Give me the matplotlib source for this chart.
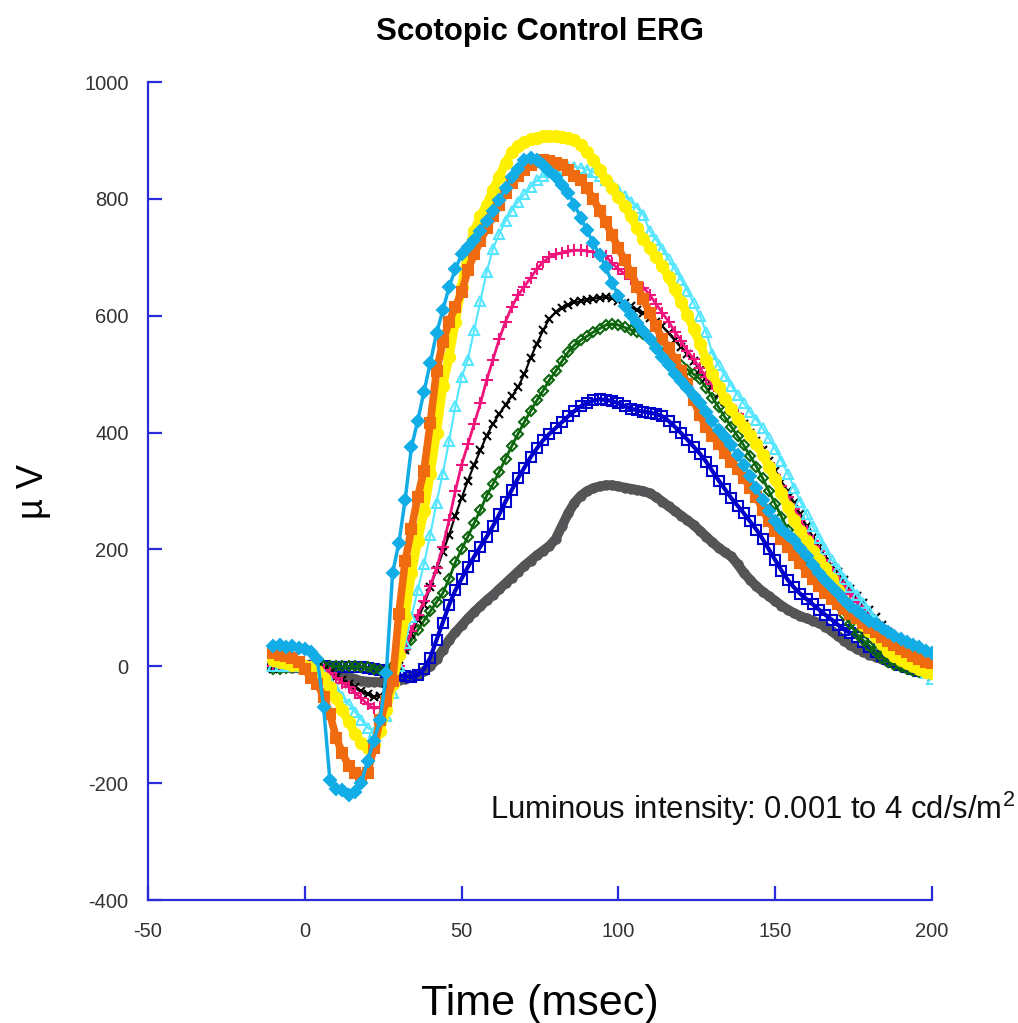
import matplotlib.pyplot as plt

plt.rcParams['font.family'] = ['Liberation Sans', 'DejaVu Sans']
plt.rcParams['mathtext.fontset'] = 'custom'
plt.rcParams['mathtext.rm'] = 'Liberation Sans'
plt.rcParams['axes.unicode_minus'] = False

# time axis (msec), one sample every 2 ms
t = list(range(-10, 201, 2))

# ERG responses (uV), weakest to strongest flash
gray = [0, 0, -2, -3, -3, -2, -2, -3, -4, -6,
        -10, -14, -18, -22, -25, -26, -27, -27, -26, -25,
        -24, -22, -19, -14, -8, 0, 12, 28, 45, 58,
        70, 82, 93, 103, 113, 122, 132, 142, 152, 162,
        172, 181, 190, 198, 206, 218, 240, 262, 280, 292,
        300, 305, 308, 310, 310, 308, 306, 304, 302, 300,
        296, 290, 282, 274, 266, 258, 250, 242, 232, 222,
        212, 203, 195, 188, 175, 160, 148, 137, 128, 120,
        112, 104, 97, 91, 86, 82, 78, 74, 68, 60,
        52, 44, 36, 30, 25, 20, 16, 12, 8, 5,
        2, -2, -6, -8, -10, -10]
blue = [0, 0, 0, 0, 0, 0, 0, 0, 0, -1,
        -2, -2, -2, -2, -2, -3, -4, -6, -9, -12,
        -15, -17, -18, -15, -5, 15, 45, 75, 105, 130,
        150, 170, 188, 205, 222, 240, 260, 282, 302, 322,
        340, 358, 373, 387, 398, 408, 418, 428, 437, 445,
        451, 455, 457, 456, 454, 450, 445, 441, 438, 436,
        434, 432, 428, 420, 410, 399, 388, 376, 364, 350,
        334, 318, 303, 288, 275, 262, 248, 234, 218, 200,
        182, 164, 148, 135, 124, 115, 106, 97, 88, 80,
        71, 63, 57, 50, 42, 33, 25, 18, 12, 7,
        2, -2, -5, -8, -10, -10]
green = [-5, -5, -3, -2, -2, -2, 0, 0, 0, 0,
         0, 0, 0, 0, -1, -2, -4, -6, -8, 0,
         15, 30, 45, 62, 78, 94, 110, 125, 150, 178,
         200, 222, 245, 268, 292, 312, 333, 355, 377, 398,
         418, 437, 455, 472, 490, 505, 522, 538, 550, 558,
         565, 572, 578, 584, 586, 584, 580, 576, 573, 568,
         560, 552, 544, 535, 524, 515, 508, 500, 492, 477,
         460, 443, 426, 410, 394, 378, 360, 342, 322, 300,
         278, 256, 234, 214, 195, 178, 162, 148, 135, 120,
         105, 88, 72, 55, 45, 35, 25, 15, 8, 3,
         -2, -5, -8, -10, -12, -12]
black = [-5, -3, -2, 0, 0, 0, 0, -2, -6, -12,
         -18, -24, -30, -36, -42, -48, -52, -50, -40, -22,
         0, 28, 55, 80, 105, 135, 165, 195, 225, 258,
         288, 318, 345, 370, 395, 415, 432, 448, 462, 478,
         500, 528, 552, 575, 595, 606, 614, 619, 623, 625,
         627, 629, 631, 632, 630, 626, 622, 616, 610, 604,
         597, 590, 582, 570, 558, 546, 534, 522, 508, 494,
         480, 466, 452, 438, 426, 414, 400, 386, 370, 352,
         335, 316, 300, 280, 260, 240, 222, 205, 188, 172,
         162, 148, 133, 120, 108, 96, 84, 71, 58, 45,
         32, 20, 8, -3, -12, -18]
magenta = [0, 0, 0, 0, 0, 0, 0, -2, -6, -12,
           -20, -28, -36, -45, -55, -65, -72, -70, -55, -30,
           0, 30, 60, 88, 112, 138, 168, 205, 250, 300,
           345, 380, 415, 450, 490, 525, 560, 590, 615, 635,
           650, 665, 680, 692, 700, 705, 708, 710, 712, 712,
           711, 709, 706, 702, 690, 680, 672, 663, 655, 648,
           636, 620, 605, 590, 573, 557, 540, 526, 510, 495,
           484, 472, 460, 446, 431, 415, 398, 382, 366, 348,
           328, 308, 290, 270, 250, 232, 215, 198, 182, 166,
           152, 138, 124, 110, 97, 86, 75, 64, 54, 44,
           33, 22, 12, 4, -4, -10]
cyan = [0, 0, 0, 0, 0, -2, -4, -8, -15, -25,
        -38, -52, -65, -78, -92, -105, -112, -108, -85, -45,
        0, 40, 85, 130, 175, 225, 280, 330, 385, 445,
        495, 525, 575, 625, 675, 715, 740, 762, 780, 795,
        808, 820, 832, 840, 846, 850, 853, 855, 855, 853,
        850, 846, 840, 832, 824, 815, 805, 795, 785, 772,
        745, 730, 714, 697, 680, 662, 643, 622, 600, 572,
        535, 515, 497, 480, 465, 450, 435, 422, 408, 390,
        372, 352, 330, 306, 282, 260, 240, 220, 200, 182,
        166, 150, 136, 122, 108, 94, 80, 66, 52, 40,
        30, 20, 10, 0, -12, -22]
yellow = [10, 8, 5, 3, 2, 0, -2, -8, -20, -35,
          -55, -75, -95, -115, -132, -140, -135, -110, -75, -30,
          20, 85, 160, 215, 265, 330, 400, 480, 530, 590,
          650, 710, 745, 770, 790, 815, 838, 862, 880, 890,
          897, 902, 905, 907, 908, 908, 906, 904, 900, 892,
          880, 866, 850, 832, 818, 803, 788, 770, 750, 732,
          716, 700, 686, 666, 645, 624, 602, 578, 552, 525,
          500, 478, 458, 440, 424, 410, 396, 380, 362, 342,
          320, 296, 272, 250, 232, 215, 198, 182, 168, 150,
          130, 112, 96, 82, 70, 60, 50, 38, 26, 18,
          10, 5, 0, -5, -10, -12]
orange = [22, 20, 18, 15, 8, -5, -20, -30, -52, -82,
          -122, -149, -170, -182, -188, -182, -140, -92, -60, -25,
          90, 180, 235, 290, 335, 416, 505, 555, 590, 615,
          640, 678, 705, 728, 750, 770, 790, 810, 827, 840,
          850, 858, 863, 866, 865, 862, 858, 850, 840, 832,
          818, 800, 780, 760, 738, 716, 695, 673, 650, 628,
          605, 582, 560, 545, 525, 505, 484, 455, 430, 410,
          395, 380, 365, 350, 338, 322, 306, 290, 268, 248,
          232, 218, 204, 190, 176, 162, 150, 137, 125, 115,
          106, 98, 90, 82, 74, 66, 58, 50, 43, 36,
          30, 24, 18, 12, 8, 5]
skyblue = [35, 36, 33, 35, 32, 30, 25, 12, -70, -195,
           -210, -212, -220, -215, -200, -162, -127, -92, -12, 160,
           211, 285, 375, 420, 470, 519, 570, 609, 649, 680,
           705, 718, 729, 745, 763, 780, 798, 818, 837, 852,
           866, 870, 866, 858, 848, 837, 824, 810, 790, 768,
           746, 724, 704, 683, 656, 634, 617, 602, 588, 574,
           560, 545, 530, 515, 500, 488, 477, 462, 450, 435,
           420, 405, 392, 378, 362, 345, 325, 305, 285, 265,
           248, 235, 225, 216, 202, 188, 174, 160, 147, 136,
           125, 114, 103, 94, 86, 78, 72, 65, 58, 52,
           47, 42, 37, 33, 27, 22]

# (values, colour, marker, marker size, filled, line width)
series = [
    (gray, '#555558', 'o', 6, True, 7),
    (blue, '#0000cc', 's', 7, False, 3),
    (green, '#0c660c', 'D', 5, False, 2),
    (black, '#000000', 'x', 5.5, True, 1.5),
    (magenta, '#f0147d', '+', 8, True, 2),
    (cyan, '#55e6ff', '^', 7, False, 1.5),
    (yellow, '#fff000', 'o', 8, True, 6.5),
    (orange, '#f06a10', 's', 7.5, True, 5.5),
    (skyblue, '#12ace6', 'D', 6.5, True, 2.5),
]

fig = plt.figure(figsize=(10.18, 10.23), dpi=100)
ax = fig.add_axes([0.1454, 0.1202, 0.7701, 0.7996])

for vals, col, mk, ms, filled, lw in series:
    ax.plot(t, vals, color=col, lw=lw, marker=mk, ms=ms,
            mfc=col if filled else 'none', mec=col, mew=1.5)

ax.set_xlim(-50, 200)
ax.set_ylim(-400, 1000)
ax.set_xticks([-50, 0, 50, 100, 150, 200])
ax.set_yticks([-400, -200, 0, 200, 400, 600, 800, 1000])

axis_col = '#2b2bd9'
for s in ['top', 'right']:
    ax.spines[s].set_visible(False)
for s in ['left', 'bottom']:
    ax.spines[s].set_color(axis_col)
    ax.spines[s].set_linewidth(1.6)
ax.tick_params(axis='both', direction='in', length=10, width=1.6,
               color=axis_col, labelcolor='#333333', labelsize=14.5)
ax.tick_params(axis='x', pad=16)
ax.tick_params(axis='y', pad=14)

ax.set_title('Scotopic Control ERG', fontsize=22.5, fontweight='bold', pad=30)
ax.set_xlabel('Time (msec)', fontsize=31, labelpad=31)
ax.set_ylabel('µ V', fontsize=26, labelpad=24)

ax.text(59, -262, r'Luminous intensity: 0.001 to 4 cd/s/m$^2$',
        fontsize=22.3, color='#111111', ha='left', va='baseline')

plt.savefig('out.png', dpi=100)
